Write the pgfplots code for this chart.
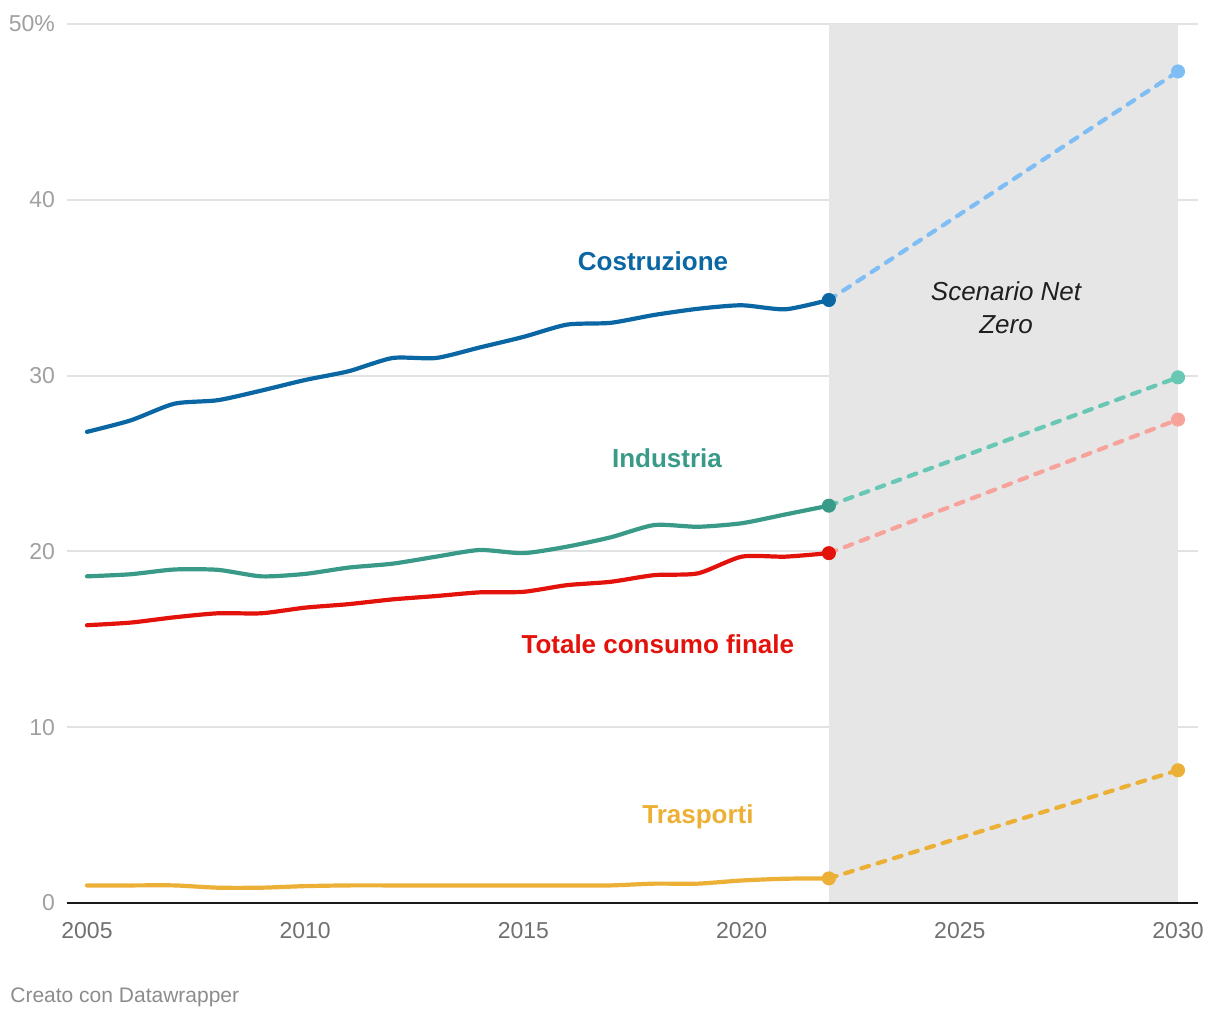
\documentclass[border=0pt]{standalone}
\usepackage{pgfplots}
\pgfplotsset{compat=1.18}
\usepackage{fontspec}
\setmainfont{Liberation Sans}
\definecolor{costr}{HTML}{0A67A3}
\definecolor{costrL}{HTML}{7FBEF5}
\definecolor{indu}{HTML}{3A9A88}
\definecolor{induL}{HTML}{68C8B4}
\definecolor{tot}{HTML}{E3120B}
\definecolor{totL}{HTML}{F7A39C}
\definecolor{tras}{HTML}{EBB035}
\definecolor{bandgray}{HTML}{E6E6E6}
\definecolor{gridgray}{HTML}{E2E2E2}
\definecolor{ylab}{HTML}{A0A0A0}
\definecolor{xlab}{HTML}{707070}
\begin{document}
\begin{tikzpicture}
\useasboundingbox (0,0) rectangle (610pt,510pt);
\begin{axis}[
  at={(33.5pt,58.5pt)}, anchor=south west,
  scale only axis, width=565.5pt, height=439.5pt,
  xmin=2004.542, xmax=2030.458, ymin=0, ymax=50,
  axis x line*=bottom, axis y line*=left,
  x axis line style={draw=none},
  y axis line style={draw=none},
  major tick length=0pt,
  xtick={2005,2010,2015,2020,2025,2030},
  xticklabels={2005,2010,2015,2020,2025,2030},
  ytick={0,10,20,30,40,50},
  yticklabels={0,10,20,30,40,50\%},
  /pgf/number format/assume math mode=true,
  tick label style={font=\fontsize{11.5}{13}\selectfont},
  xticklabel style={text=xlab, yshift=-6pt},
  yticklabel style={text=ylab, xshift=-2.5pt},
  ymajorgrids, grid style={gridgray, line width=1pt},
  clip=false,
]
% projection band
\addplot[fill=bandgray, draw=none] coordinates {(2022,50) (2030,50)} \closedcycle;

% dashed projections
\addplot[costrL, line width=2.1pt, line cap=round, dash pattern=on 4pt off 4.5pt] coordinates {(2022,34.3) (2030,47.3)};
\addplot[induL, line width=2.1pt, line cap=round, dash pattern=on 4pt off 4.5pt] coordinates {(2022,22.6) (2030,29.9)};
\addplot[totL, line width=2.1pt, line cap=round, dash pattern=on 4pt off 4.5pt] coordinates {(2022,19.9) (2030,27.5)};
\addplot[tras, line width=2.1pt, line cap=round, dash pattern=on 4pt off 4.5pt] coordinates {(2022,1.4) (2030,7.55)};

% historical series
\addplot[costr, line width=2.1pt, line cap=round, smooth, tension=0.4] coordinates {
(2005,26.8)(2006,27.45)(2007,28.4)(2008,28.6)(2009,29.15)(2010,29.75)(2011,30.25)(2012,31.0)(2013,31.0)(2014,31.6)(2015,32.2)(2016,32.9)(2017,33.0)(2018,33.45)(2019,33.8)(2020,34.0)(2021,33.77)(2022,34.3)};
\addplot[indu, line width=2.1pt, line cap=round, smooth, tension=0.4] coordinates {
(2005,18.58)(2006,18.7)(2007,18.97)(2008,18.95)(2009,18.58)(2010,18.72)(2011,19.08)(2012,19.3)(2013,19.7)(2014,20.08)(2015,19.9)(2016,20.27)(2017,20.8)(2018,21.5)(2019,21.4)(2020,21.6)(2021,22.1)(2022,22.6)};
\addplot[tot, line width=2.1pt, line cap=round, smooth, tension=0.4] coordinates {
(2005,15.8)(2006,15.95)(2007,16.25)(2008,16.48)(2009,16.48)(2010,16.8)(2011,17.0)(2012,17.27)(2013,17.46)(2014,17.67)(2015,17.7)(2016,18.08)(2017,18.27)(2018,18.65)(2019,18.75)(2020,19.7)(2021,19.7)(2022,19.9)};
\addplot[tras, line width=2.1pt, line cap=round, smooth, tension=0.4] coordinates {
(2005,1.0)(2006,1.0)(2007,1.0)(2008,0.87)(2009,0.87)(2010,0.96)(2011,1.0)(2012,1.0)(2013,1.0)(2014,1.0)(2015,1.0)(2016,1.0)(2017,1.0)(2018,1.1)(2019,1.1)(2020,1.28)(2021,1.38)(2022,1.4)};

% axis baseline
\addplot[black!90, line width=1.1pt] coordinates {(2004.542,0) (2030.458,0)};

% end markers
\addplot[only marks, mark=*, mark size=3.3pt, mark options={draw=costr, fill=costr}] coordinates {(2022,34.3)};
\addplot[only marks, mark=*, mark size=3.3pt, mark options={draw=costrL, fill=costrL}] coordinates {(2030,47.3)};
\addplot[only marks, mark=*, mark size=3.3pt, mark options={draw=indu, fill=indu}] coordinates {(2022,22.6)};
\addplot[only marks, mark=*, mark size=3.3pt, mark options={draw=induL, fill=induL}] coordinates {(2030,29.9)};
\addplot[only marks, mark=*, mark size=3.3pt, mark options={draw=tot, fill=tot}] coordinates {(2022,19.9)};
\addplot[only marks, mark=*, mark size=3.3pt, mark options={draw=totL, fill=totL}] coordinates {(2030,27.5)};
\addplot[only marks, mark=*, mark size=3.3pt, mark options={draw=tras, fill=tras}] coordinates {(2022,1.4) (2030,7.55)};

% labels
\node[text=costr, font=\fontsize{13}{15}\selectfont\bfseries] at (axis cs:2017.97,36.52) {Costruzione};
\node[text=indu, font=\fontsize{13}{15}\selectfont\bfseries] at (axis cs:2018.29,25.31) {Industria};
\node[text=tot, font=\fontsize{13}{15}\selectfont\bfseries] at (axis cs:2018.08,14.73) {Totale consumo finale};
\node[text=tras, font=\fontsize{13}{15}\selectfont\bfseries] at (axis cs:2019.0,4.89) {Trasporti};
\node[text=black!88, font=\fontsize{13}{16.5}\selectfont\itshape, align=center] at (axis cs:2026.06,33.87) {Scenario Net\\Zero};
\end{axis}
\node[anchor=west, text=black!45, font=\fontsize{10.5}{12}\selectfont, inner sep=0pt] at (5pt,11.5pt) {Creato con Datawrapper};
\end{tikzpicture}
\end{document}
